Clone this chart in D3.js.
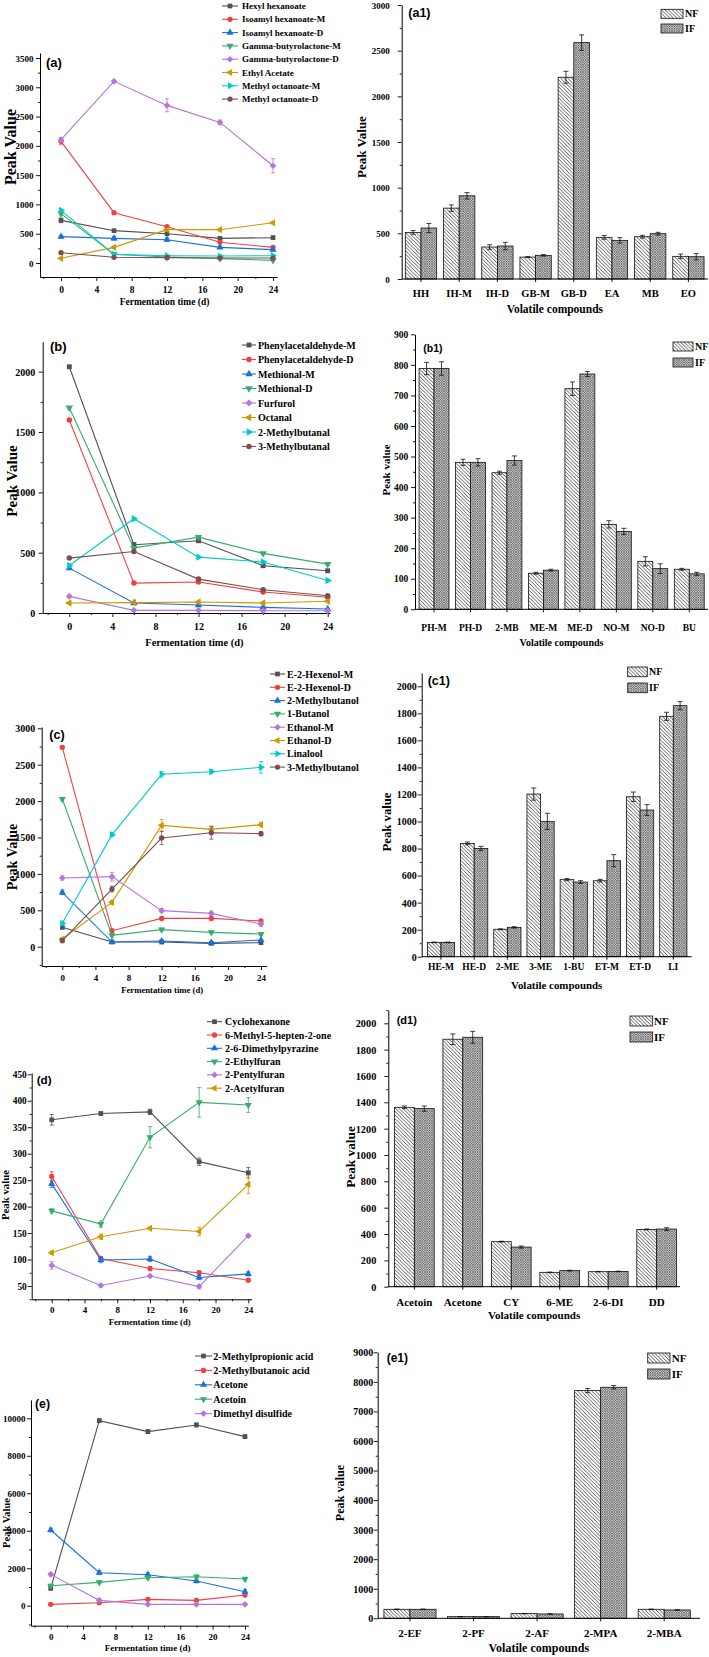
<!DOCTYPE html>
<html><head><meta charset="utf-8">
<script src="https://cdn.jsdelivr.net/npm/d3@7"></script>
<style>
body{margin:0;background:#fff}
svg{display:block}
text{font-family:"Liberation Serif","Times New Roman",serif;font-weight:bold;fill:#000}
text.plabel{font-family:"Liberation Sans",Arial,sans-serif}
</style></head><body><svg id="c" width="709" height="1657"></svg>
<script>
// ---------- DATA ----------
const timePoints=[0,6,12,18,24];
const xTickValues=[0,4,8,12,16,20,24];
const seriesColors=["#515151","#F14040","#1A6FDF","#37AD6B","#B177DE","#CC9900","#00CBCC","#7D4E4E"];
const seriesMarkers=["square","circle","triangle","triangleDown","diamond","triangleLeft","triangleRight","circle"];
const groupNames=["NF","IF"];

const aNames=["Hexyl hexanoate","Isoamyl hexanoate-M","Isoamyl hexanoate-D","Gamma-butyrolactone-M","Gamma-butyrolactone-D","Ethyl Acetate","Methyl octanoate-M","Methyl octanoate-D"];
const aValues=[[728,552,500,421,432],[2077,859,620,353,267],[450,421,398,267,228],[842,148,102,74,45],[2105,3101,2691,2401,1661],[80,267,569,569,688],[899,148,125,119,125],[176,97,91,85,85]];
const aErrors=[[40,20,20,20,30],[50,20,20,20,20],[20,30,30,20,20],[20,10,10,10,10],[40,20,110,40,120],[10,20,20,20,20],[20,10,10,10,10],[10,10,10,10,10]];

const bNames=["Phenylacetaldehyde-M","Phenylacetaldehyde-D","Methional-M","Methional-D","Furfurol","Octanal","2-Methylbutanal","3-Methylbutanal"];
const bValues=[[2041,566,599,392,350],[1600,248,257,174,130],[372,83,66,47,33],[1702,538,629,494,405],[138,22,22,19,19],[83,86,91,83,97],[394,781,463,422,270],[455,510,281,193,143]];
const bErrors=[[10,15,15,10,10],[10,10,10,10,10],[10,5,5,5,5],[10,10,10,10,10],[10,5,5,5,5],[5,5,5,5,5],[10,10,10,10,10],[10,10,10,10,10]];

const cNames=["E-2-Hexenol-M","E-2-Hexenol-D","2-Methylbutanol","1-Butanol","Ethanol-M","Ethanol-D","Linalool","3-Methylbutanol"];
const cValues=[[266,64,64,46,55],[2739,220,389,389,353],[747,64,78,55,92],[2029,156,234,197,174],[943,962,495,458,311],[105,609,1667,1612,1676],[321,1539,2368,2404,2464],[82,792,1493,1566,1553]];
const cErrors=[[20,10,10,10,10],[20,20,20,20,20],[30,10,10,10,10],[20,20,20,20,20],[30,60,30,30,30],[20,30,80,40,30],[30,30,40,30,80],[20,40,90,90,30]];

const dNames=["Cyclohexanone","6-Methyl-5-hepten-2-one","2-6-Dimethylpyrazine","2-Ethylfuran","2-Pentylfuran","2-Acetylfuran"];
const dValues=[[364,376,379,285,264],[257,102,83,75,61],[243,99,101,66,73],[192,167,331,397,392],[89,51,69,49,145],[113,143,159,153,242]];
const dErrors=[[10,3,5,7,10],[9,4,4,4,3],[7,5,5,4,4],[4,6,20,28,14],[7,3,3,4,3],[3,5,3,8,17]];

const eNames=["2-Methylpropionic acid","2-Methylbutanoic acid","Acetone","Acetoin","Dimethyl disulfide"];
const eValues=[[925,9875,9288,9644,9021],[71,160,338,285,569],[4039,1761,1655,1317,747],[1067,1245,1494,1548,1423],[1672,285,71,71,71]];
const eErrors=[[80,100,100,100,100],[50,50,60,60,60],[100,100,100,100,100],[80,80,80,100,100],[100,80,50,50,50]];

const a1Categories=["HH","IH-M","IH-D","GB-M","GB-D","EA","MB","EO"];
const a1NF=[510,776,350,240,2209,456,463,248];
const a1IF=[558,911,361,259,2588,423,496,244];
const a1NFErr=[20,35,25,5,65,20,15,25];
const a1IFErr=[50,35,40,8,85,30,15,35];

const b1Categories=["PH-M","PH-D","2-MB","ME-M","ME-D","NO-M","NO-D","BU"];
const b1NF=[788,481,447,118,722,278,157,131];
const b1IF=[788,481,487,128,770,255,133,116];
const b1NFErr=[20,10,5,3,22,12,15,3];
const b1IFErr=[22,12,15,3,8,10,16,5];

const c1Categories=["HE-M","HE-D","2-ME","3-ME","1-BU","ET-M","ET-D","LI"];
const c1NF=[106,838,203,1203,570,562,1183,1778];
const c1IF=[106,801,217,1001,552,710,1085,1857];
const c1NFErr=[2,10,3,45,8,10,35,30];
const c1IFErr=[2,15,5,60,10,45,40,30];

const d1Categories=["Acetoin","Acetone","CY","6-ME","2-6-DI","DD"];
const d1NF=[1362,1879,342,109,114,435];
const d1IF=[1352,1894,301,122,116,438];
const d1NFErr=[10,40,3,2,2,3];
const d1IFErr=[20,45,8,3,2,10];

const e1Categories=["2-EF","2-PF","2-AF","2-MPA","2-MBA"];
const e1NF=[305,56,158,7704,305];
const e1IF=[305,56,147,7817,282];
const e1NFErr=[8,3,5,70,8];
const e1IFErr=[8,3,5,60,8];

// ---------- DRAWING ----------
const svg=d3.select("#c");
const defs=svg.append("defs");
const pNF=defs.append("pattern").attr("id","nf").attr("width",3.6).attr("height",3.6).attr("patternUnits","userSpaceOnUse");
pNF.append("rect").attr("width",3.6).attr("height",3.6).attr("fill","#fff");
pNF.append("path").attr("d","M0,0L3.6,3.6M-1,2.6L1,4.6M2.6,-1L4.6,1").attr("stroke","#222").attr("stroke-width",0.75);
const pIF=defs.append("pattern").attr("id","if").attr("width",2.4).attr("height",2.4).attr("patternUnits","userSpaceOnUse");
pIF.append("rect").attr("width",2.4).attr("height",2.4).attr("fill","#d4d4d4");
pIF.append("path").attr("d","M0,2.4L2.4,0M-0.6,0.6L0.6,-0.6M1.8,3L3,1.8M0,0L2.4,2.4M-0.6,1.8L0.6,3M1.8,-0.6L3,0.6").attr("stroke","#3a3a3a").attr("stroke-width",0.5);

function symbolPath(kind,size){
  const map={square:[d3.symbolSquare,0],circle:[d3.symbolCircle,0],triangle:[d3.symbolTriangle,0],
    triangleDown:[d3.symbolTriangle,180],diamond:[d3.symbolSquare,45],triangleLeft:[d3.symbolTriangle,-90],triangleRight:[d3.symbolTriangle,90]};
  const m=map[kind];
  return {d:d3.symbol().type(m[0]).size(size)(),rot:m[1]};
}
function minorTicks(dom,step,majors){
  const lo=Math.min(dom[0],dom[1]),hi=Math.max(dom[0],dom[1]);
  return d3.range(Math.ceil(lo/step)*step,hi+1e-9,step).filter(v=>!majors.some(m=>Math.abs(m-v)<1e-6));
}
function styleAxis(g){
  g.attr("font-family",null);
  g.selectAll("path.domain").attr("stroke","#000").attr("stroke-width",1);
  g.selectAll(".tick line").attr("stroke","#000").attr("stroke-width",0.9);
}
function yAxisDraw(g,y,cfg,left){
  const majors=cfg.yTicks;
  const ax=g.append("g").attr("transform",`translate(${left},0)`)
    .call(d3.axisLeft(y).tickValues(majors).tickSize(4).tickSizeOuter(0).tickFormat(d3.format("d")));
  styleAxis(ax);
  ax.attr("font-size",cfg.yTickFs);
  ax.selectAll(".tick text").attr("x",-cfg.yLabGap).attr("dy","0.34em");
  const mi=g.append("g").attr("transform",`translate(${left},0)`)
    .call(d3.axisLeft(y).tickValues(minorTicks(y.domain(),cfg.yMinorStep,majors)).tickSize(2).tickFormat(""));
  mi.select("path.domain").remove();
  styleAxis(mi);
}
function yTitle(g,cfg){
  g.append("text").attr("transform",`translate(${cfg.yTitleX},${cfg.yTitleY}) rotate(-90)`)
    .attr("text-anchor","middle").attr("dy","0.35em").attr("font-size",cfg.yTitleFs).text(cfg.yTitle);
}
function panelLabel(g,cfg){
  g.append("text").attr("class","plabel").attr("x",cfg.labelX).attr("y",cfg.labelY)
    .attr("font-size",cfg.labelFs).text(cfg.label);
}

function drawLinePanel(cfg){
  const g=svg.append("g");
  const xs=d3.scaleLinear().domain([0,24]).range([cfg.x0,cfg.x24]);
  const x=d3.scaleLinear().domain([xs.invert(cfg.left),xs.invert(cfg.right)]).range([cfg.left,cfg.right]);
  const ys=d3.scaleLinear().domain([cfg.yA,cfg.yB]).range([cfg.pA,cfg.pB]);
  const y=d3.scaleLinear().domain([ys.invert(cfg.bottom),ys.invert(cfg.top)]).range([cfg.bottom,cfg.top]);
  const xa=g.append("g").attr("transform",`translate(0,${cfg.bottom})`)
    .call(d3.axisBottom(x).tickValues(xTickValues).tickSize(4).tickSizeOuter(0).tickFormat(d3.format("d")));
  styleAxis(xa); xa.attr("font-size",cfg.xTickFs);
  xa.selectAll(".tick text").attr("y",cfg.xTickOff).attr("dy","0.35em");
  const xm=g.append("g").attr("transform",`translate(0,${cfg.bottom})`)
    .call(d3.axisBottom(x).tickValues(minorTicks(x.domain(),2,xTickValues)).tickSize(2).tickFormat(""));
  xm.select("path.domain").remove(); styleAxis(xm);
  yAxisDraw(g,y,cfg,cfg.left);
  g.append("text").attr("x",(cfg.left+cfg.right)/2+cfg.xTitleDx).attr("y",cfg.bottom+cfg.xTitleOff).attr("dy","0.35em")
    .attr("text-anchor","middle").attr("font-size",cfg.xTitleFs).text("Fermentation time (d)");
  yTitle(g,cfg); panelLabel(g,cfg);
  const line=d3.line().x((v,i)=>x(timePoints[i])).y(v=>y(v));
  cfg.values.forEach((vals,si)=>{
    const col=seriesColors[si];
    const sg=g.append("g");
    sg.selectAll("g.err").data(vals).join("g").each(function(v,i){
      const e=cfg.errors[si][i], cx=x(timePoints[i]);
      const s=d3.select(this);
      s.append("line").attr("x1",cx).attr("x2",cx).attr("y1",y(v-e)).attr("y2",y(v+e)).attr("stroke",col).attr("stroke-width",0.8);
      [v-e,v+e].forEach(w=>s.append("line").attr("x1",cx-2).attr("x2",cx+2).attr("y1",y(w)).attr("y2",y(w)).attr("stroke",col).attr("stroke-width",0.8));
    });
    sg.append("path").attr("d",line(vals)).attr("fill","none").attr("stroke",col).attr("stroke-width",1.1);
    const sym=symbolPath(seriesMarkers[si],cfg.mSize);
    sg.selectAll("path.m").data(vals).join("path").attr("class","m").attr("d",sym.d)
      .attr("transform",(v,i)=>`translate(${x(timePoints[i])},${y(v)}) rotate(${sym.rot})`).attr("fill",col);
  });
  cfg.names.forEach((nm,i)=>{
    const ly=cfg.legY0+i*cfg.legDy, col=seriesColors[i];
    g.append("line").attr("x1",cfg.legX1).attr("x2",cfg.legX2).attr("y1",ly).attr("y2",ly).attr("stroke",col).attr("stroke-width",1.1);
    const sym=symbolPath(seriesMarkers[i],cfg.mSize);
    g.append("path").attr("d",sym.d).attr("transform",`translate(${(cfg.legX1+cfg.legX2)/2},${ly}) rotate(${sym.rot})`).attr("fill",col);
    g.append("text").attr("x",cfg.legTX).attr("y",ly).attr("dy","0.35em").attr("font-size",cfg.legFs).text(nm);
  });
}

function drawBarPanel(cfg){
  const g=svg.append("g");
  const ys=d3.scaleLinear().domain([0,cfg.yB]).range([cfg.bottom,cfg.pB]);
  const y=d3.scaleLinear().domain([0,ys.invert(cfg.top)]).range([cfg.bottom,cfg.top]);
  const x0=d3.scaleBand().domain(cfg.cats).range([cfg.bandStart,cfg.bandEnd]).paddingInner(0.18).paddingOuter(0.09);
  const x1=d3.scaleBand().domain(groupNames).range([0,x0.bandwidth()]);
  const series=[cfg.nf,cfg.ifv], errs=[cfg.nfErr,cfg.ifErr], fills=["url(#nf)","url(#if)"];
  series.forEach((vals,gi)=>{
    g.selectAll(null).data(vals).join("rect")
      .attr("x",(v,i)=>x0(cfg.cats[i])+x1(groupNames[gi])).attr("width",x1.bandwidth())
      .attr("y",v=>y(v)).attr("height",v=>y(0)-y(v))
      .attr("fill",fills[gi]).attr("stroke","#111").attr("stroke-width",0.8);
    vals.forEach((v,i)=>{
      const e=errs[gi][i], cx=x0(cfg.cats[i])+x1(groupNames[gi])+x1.bandwidth()/2;
      g.append("line").attr("x1",cx).attr("x2",cx).attr("y1",y(v-e)).attr("y2",y(v+e)).attr("stroke","#111").attr("stroke-width",0.8);
      [v-e,v+e].forEach(w=>g.append("line").attr("x1",cx-2.5).attr("x2",cx+2.5).attr("y1",y(w)).attr("y2",y(w)).attr("stroke","#111").attr("stroke-width",0.8));
    });
  });
  g.append("line").attr("x1",cfg.left).attr("x2",cfg.right).attr("y1",cfg.bottom).attr("y2",cfg.bottom).attr("stroke","#000").attr("stroke-width",1);
  cfg.cats.forEach(c=>{
    const cx=x0(c)+x0.bandwidth()/2;
    g.append("line").attr("x1",cx).attr("x2",cx).attr("y1",cfg.bottom).attr("y2",cfg.bottom+3).attr("stroke","#000").attr("stroke-width",0.9);
    g.append("text").attr("x",cx).attr("y",cfg.bottom+cfg.xTickOff).attr("dy","0.35em").attr("text-anchor","middle").attr("font-size",cfg.xTickFs).text(c);
  });
  yAxisDraw(g,y,cfg,cfg.left);
  g.append("text").attr("x",(cfg.left+cfg.right)/2+cfg.xTitleDx).attr("y",cfg.bottom+cfg.xTitleOff).attr("dy","0.35em")
    .attr("text-anchor","middle").attr("font-size",cfg.xTitleFs).text("Volatile compounds");
  yTitle(g,cfg); panelLabel(g,cfg);
  groupNames.forEach((nm,i)=>{
    const ly=cfg.legY[i];
    g.append("rect").attr("x",cfg.legX).attr("y",ly).attr("width",cfg.legW).attr("height",cfg.legH)
      .attr("fill",fills[i]).attr("stroke","#111").attr("stroke-width",0.8);
    g.append("text").attr("x",cfg.legTX).attr("y",ly+cfg.legH/2).attr("dy","0.35em").attr("font-size",cfg.legFs).text(nm);
  });
}

// ---------- PANELS ----------
drawLinePanel({names:aNames,values:aValues,errors:aErrors,left:40,right:277,top:53,bottom:277,x0:61,x24:273,yA:0,pA:263,yB:3500,pB:58,
  yTicks:d3.range(0,3501,500),yMinorStep:250,yTickFs:9,yLabGap:6.5,xTickFs:9.5,xTickOff:13,xTitleOff:25,xTitleFs:9.5,xTitleDx:6,
  yTitle:"Peak Value",yTitleX:10,yTitleY:147,yTitleFs:16,label:"(a)",labelX:46,labelY:66.5,labelFs:13,
  legX1:222,legX2:238,legTX:242,legY0:6,legDy:13.3,legFs:9,mSize:22});
drawLinePanel({names:bNames,values:bValues,errors:bErrors,left:42.7,right:330,top:341.7,bottom:613,x0:69.3,x24:327.7,yA:0,pA:613,yB:2000,pB:371.7,
  yTicks:d3.range(0,2001,500),yMinorStep:250,yTickFs:10,yLabGap:7.5,xTickFs:10,xTickOff:13.7,xTitleOff:29,xTitleFs:10.4,xTitleDx:8,
  yTitle:"Peak Value",yTitleX:12,yTitleY:481,yTitleFs:15,label:"(b)",labelX:50,labelY:351,labelFs:13,
  legX1:242,legX2:256,legTX:258,legY0:345,legDy:14.5,legFs:10,mSize:24});
drawLinePanel({names:cNames,values:cValues,errors:cErrors,left:41.7,right:266.7,top:727,bottom:966,x0:62.3,x24:261,yA:0,pA:946.7,yB:3000,pB:728.3,
  yTicks:d3.range(0,3001,500),yMinorStep:250,yTickFs:10,yLabGap:6.5,xTickFs:9,xTickOff:12,xTitleOff:24,xTitleFs:8.7,xTitleDx:8,
  yTitle:"Peak Value",yTitleX:12,yTitleY:857,yTitleFs:14,label:"(c)",labelX:49.3,labelY:738.5,labelFs:12.5,
  legX1:270,legX2:285,legTX:287,legY0:674,legDy:13.3,legFs:10,mSize:22});
drawLinePanel({names:dNames,values:dValues,errors:dErrors,left:31.7,right:251.7,top:1073,bottom:1299.3,x0:51.7,x24:248.3,yA:50,pA:1286,yB:450,pB:1074.3,
  yTicks:d3.range(50,451,50),yMinorStep:25,yTickFs:9.3,yLabGap:5,xTickFs:9,xTickOff:10.7,xTitleOff:22.7,xTitleFs:8.7,xTitleDx:8,
  yTitle:"Peak value",yTitleX:5.5,yTitleY:1195,yTitleFs:10.8,label:"(d)",labelX:36.7,labelY:1084,labelFs:11.7,
  legX1:207,legX2:222,legTX:225,legY0:1021.7,legDy:13.3,legFs:10,mSize:22});
drawLinePanel({names:eNames,values:eValues,errors:eErrors,left:31,right:248.3,top:1400,bottom:1625.7,x0:50.7,x24:245,yA:0,pA:1605.7,yB:10000,pB:1418.3,
  yTicks:d3.range(0,10001,2000),yMinorStep:1000,yTickFs:9,yLabGap:5.5,xTickFs:9,xTickOff:11,xTitleOff:22.6,xTitleFs:9.1,xTitleDx:8,
  yTitle:"Peak Value",yTitleX:6.5,yTitleY:1523,yTitleFs:10.5,label:"(e)",labelX:35,labelY:1407.5,labelFs:12.3,
  legX1:195,legX2:212,legTX:213.3,legY0:1356,legDy:14.4,legFs:10,mSize:22});

drawBarPanel({cats:a1Categories,nf:a1NF,ifv:a1IF,nfErr:a1NFErr,ifErr:a1IFErr,left:401.7,right:708,top:5,bottom:279,yB:3000,pB:5,
  bandStart:401.9,bandEnd:707.5,yTicks:d3.range(0,3001,500),yMinorStep:250,yTickFs:9,yLabGap:12,xTickFs:10.5,xTickOff:14,xTitleOff:30,xTitleFs:11.5,xTitleDx:0,
  yTitle:"Peak Value",yTitleX:361,yTitleY:147,yTitleFs:13,label:"(a1)",labelX:408.3,labelY:17,labelFs:12.5,
  legX:661,legW:22,legH:9,legY:[9.3,24],legTX:685,legFs:10});
drawBarPanel({cats:b1Categories,nf:b1NF,ifv:b1IF,nfErr:b1NFErr,ifErr:b1IFErr,left:415,right:708,top:334.3,bottom:609.3,yB:900,pB:334.3,
  bandStart:415.8,bandEnd:707.5,yTicks:d3.range(0,901,100),yMinorStep:50,yTickFs:9.5,yLabGap:6.7,xTickFs:9.5,xTickOff:18.7,xTitleOff:32.7,xTitleFs:10,xTitleDx:0,
  yTitle:"Peak value",yTitleX:386,yTitleY:470,yTitleFs:11,label:"(b1)",labelX:423.3,labelY:352,labelFs:10.5,
  legX:673,legW:20,legH:9,legY:[342,358],legTX:695,legFs:10});
drawBarPanel({cats:c1Categories,nf:c1NF,ifv:c1IF,nfErr:c1NFErr,ifErr:c1IFErr,left:421.7,right:691.7,top:673,bottom:956.7,yB:2000,pB:686.3,
  bandStart:424.4,bandEnd:689.9,yTicks:d3.range(0,2001,200),yMinorStep:100,yTickFs:10,yLabGap:5,xTickFs:9.5,xTickOff:10,xTitleOff:28.3,xTitleFs:10.9,xTitleDx:0,
  yTitle:"Peak value",yTitleX:386.7,yTitleY:822,yTitleFs:12.7,label:"(c1)",labelX:427.7,labelY:685,labelFs:12.5,
  legX:627.7,legW:19.6,legH:9.7,legY:[667,683],legTX:649,legFs:10});
drawBarPanel({cats:d1Categories,nf:d1NF,ifv:d1IF,nfErr:d1NFErr,ifErr:d1IFErr,left:388.3,right:680,top:1010,bottom:1286.7,yB:2000,pB:1023.3,
  bandStart:390.1,bandEnd:680.9,yTicks:d3.range(0,2001,200),yMinorStep:100,yTickFs:10.3,yLabGap:12,xTickFs:11,xTickOff:15,xTitleOff:28.3,xTitleFs:11,xTitleDx:0,
  yTitle:"Peak value",yTitleX:350,yTitleY:1157,yTitleFs:13.3,label:"(d1)",labelX:396.7,labelY:1024,labelFs:11,
  legX:630,legW:22.7,legH:10,legY:[1016,1032],legTX:654,legFs:11});
drawBarPanel({cats:e1Categories,nf:e1NF,ifv:e1IF,nfErr:e1NFErr,ifErr:e1IFErr,left:377.7,right:700,top:1352.3,bottom:1618.3,yB:9000,pB:1352.3,
  bandStart:378.2,bandEnd:696,yTicks:d3.range(0,9001,1000),yMinorStep:500,yTickFs:10,yLabGap:4.5,xTickFs:11,xTickOff:15,xTitleOff:29,xTitleFs:12,xTitleDx:0,
  yTitle:"Peak value",yTitleX:340,yTitleY:1493,yTitleFs:12.2,label:"(e1)",labelX:386.7,labelY:1362,labelFs:12,
  legX:647.7,legW:22.3,legH:10,legY:[1353,1369],legTX:671.7,legFs:11});
</script></body></html>
